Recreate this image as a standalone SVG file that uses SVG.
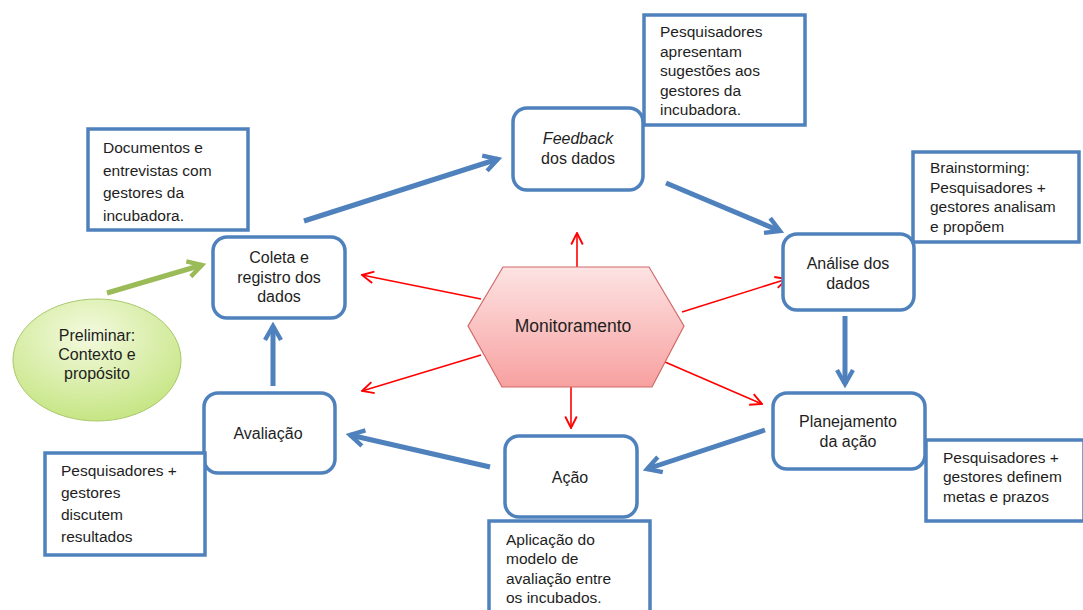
<svg xmlns="http://www.w3.org/2000/svg" width="1083" height="610" viewBox="0 0 1083 610">
<defs>
<style>
.rb{fill:#fff;stroke:#4f81bd;stroke-width:3.5}
.nb{fill:#fff;stroke:#4f81bd;stroke-width:3.5}
text{font-family:"Liberation Sans",Arial,sans-serif;font-size:15.5px;fill:#1e1e1e}
.c{text-anchor:middle;font-size:16px}
.blue{stroke:#4f81bd;stroke-width:5;fill:none}
.red{stroke:#ff0000;stroke-width:1.6;fill:none}
.green{stroke:#9bbb59;stroke-width:5;fill:none}
</style>
<marker id="ab" viewBox="0 0 10 10" refX="8" refY="5" markerWidth="4" markerHeight="4" orient="auto" markerUnits="strokeWidth">
<path d="M1,1 L8,5 L1,9" fill="none" stroke="#4f81bd" stroke-width="2.2"/>
</marker>
<marker id="ag" viewBox="0 0 10 10" refX="8" refY="5" markerWidth="4" markerHeight="4" orient="auto" markerUnits="strokeWidth">
<path d="M1,1 L8,5 L1,9" fill="none" stroke="#9bbb59" stroke-width="2.2"/>
</marker>
<marker id="ar" viewBox="0 0 10 10" refX="9" refY="5" markerWidth="9" markerHeight="9" orient="auto" markerUnits="strokeWidth">
<path d="M1,1 L9,5 L1,9" fill="none" stroke="#ff0000" stroke-width="1.3"/>
</marker>
<linearGradient id="gh" x1="0" y1="0" x2="0" y2="1">
<stop offset="0" stop-color="#fde3e3"/><stop offset="1" stop-color="#f7a1a0"/>
</linearGradient>
<radialGradient id="gg" cx="0.45" cy="0.3" r="0.75">
<stop offset="0" stop-color="#f4fadf"/><stop offset="1" stop-color="#c3e47e"/>
</radialGradient>
</defs>
<rect width="1083" height="610" fill="#fff"/>

<g id="connectors">
<line class="blue" x1="304" y1="221" x2="498" y2="159" marker-end="url(#ab)"/>
<line class="blue" x1="666" y1="183" x2="780" y2="231" marker-end="url(#ab)"/>
<line class="blue" x1="845" y1="316" x2="845" y2="384" marker-end="url(#ab)"/>
<line class="blue" x1="765" y1="430" x2="647" y2="469" marker-end="url(#ab)"/>
<line class="blue" x1="490" y1="467" x2="350" y2="435" marker-end="url(#ab)"/>
<line class="blue" x1="273" y1="386" x2="273" y2="326" marker-end="url(#ab)"/>
<line class="green" x1="107" y1="293" x2="202" y2="265" marker-end="url(#ag)"/>
<line class="red" x1="577" y1="267" x2="577" y2="233" marker-end="url(#ar)"/>
<line class="red" x1="481" y1="299" x2="362" y2="275" marker-end="url(#ar)"/>
<line class="red" x1="682" y1="312" x2="787" y2="279" marker-end="url(#ar)"/>
<line class="red" x1="481" y1="355" x2="362" y2="391" marker-end="url(#ar)"/>
<line class="red" x1="665" y1="362" x2="762" y2="404" marker-end="url(#ar)"/>
<line class="red" x1="571" y1="387" x2="571" y2="428" marker-end="url(#ar)"/>
</g>

<g id="monitoramento">
<polygon points="503,267 649,267 684,326 652,387 502,387 468,326" fill="url(#gh)" stroke="#d06a68" stroke-width="1.2"/>
<text class="c" x="573" y="332" style="font-size:17.5px">Monitoramento</text>
</g>

<g id="preliminar">
<ellipse cx="97" cy="360" rx="84" ry="61" fill="url(#gg)" stroke="#a9c86b" stroke-width="1"/>
<text class="c" x="97" y="341">Preliminar:</text>
<text class="c" x="97" y="360">Contexto e</text>
<text class="c" x="97" y="379">propósito</text>
</g>

<g id="coleta">
<rect class="rb" x="213" y="237" width="132" height="81" rx="14"/>
<text class="c" x="279" y="263">Coleta e</text>
<text class="c" x="279" y="283">registro dos</text>
<text class="c" x="279" y="302">dados</text>
</g>

<g id="feedback">
<rect class="rb" x="513" y="108" width="130" height="82" rx="14"/>
<text class="c" x="578" y="144" font-style="italic">Feedback</text>
<text class="c" x="578" y="164">dos dados</text>
</g>

<g id="analise">
<rect class="rb" x="783" y="234" width="131" height="76" rx="14"/>
<text class="c" x="848" y="269">Análise dos</text>
<text class="c" x="848" y="289">dados</text>
</g>

<g id="planejamento">
<rect class="rb" x="773" y="393" width="152" height="76" rx="14"/>
<text class="c" x="848" y="427">Planejamento</text>
<text class="c" x="848" y="447">da ação</text>
</g>

<g id="acao">
<rect class="rb" x="505" y="436" width="132" height="81" rx="14"/>
<text class="c" x="570" y="483">Ação</text>
</g>

<g id="avaliacao">
<rect class="rb" x="204" y="393" width="131" height="80" rx="14"/>
<text class="c" x="268" y="439">Avaliação</text>
</g>

<g id="nota-documentos">
<rect class="nb" x="88" y="129" width="160" height="101"/>
<text x="103" y="153">Documentos e</text>
<text x="103" y="176">entrevistas com</text>
<text x="103" y="198">gestores da</text>
<text x="103" y="221">incubadora.</text>
</g>

<g id="nota-sugestoes">
<rect class="nb" x="644" y="15" width="161" height="110"/>
<text x="660" y="37">Pesquisadores</text>
<text x="660" y="57">apresentam</text>
<text x="660" y="76">sugestões aos</text>
<text x="660" y="96">gestores da</text>
<text x="660" y="115">incubadora.</text>
</g>

<g id="nota-brainstorming">
<rect class="nb" x="913" y="152" width="166" height="90"/>
<text x="930" y="173">Brainstorming:</text>
<text x="930" y="193">Pesquisadores +</text>
<text x="930" y="212">gestores analisam</text>
<text x="930" y="232">e propõem</text>
</g>

<g id="nota-metas">
<rect class="nb" x="926" y="440" width="158" height="81"/>
<text x="943" y="463">Pesquisadores +</text>
<text x="943" y="482">gestores definem</text>
<text x="943" y="502">metas e prazos</text>
</g>

<g id="nota-resultados">
<rect class="nb" x="45" y="453" width="160" height="102"/>
<text x="61" y="476">Pesquisadores +</text>
<text x="61" y="498">gestores</text>
<text x="61" y="520">discutem</text>
<text x="61" y="542">resultados</text>
</g>

<g id="nota-aplicacao">
<rect class="nb" x="489" y="521" width="161" height="95"/>
<text x="506" y="545">Aplicação do</text>
<text x="506" y="564">modelo de</text>
<text x="506" y="584">avaliação entre</text>
<text x="506" y="603">os incubados.</text>
</g>
</svg>
